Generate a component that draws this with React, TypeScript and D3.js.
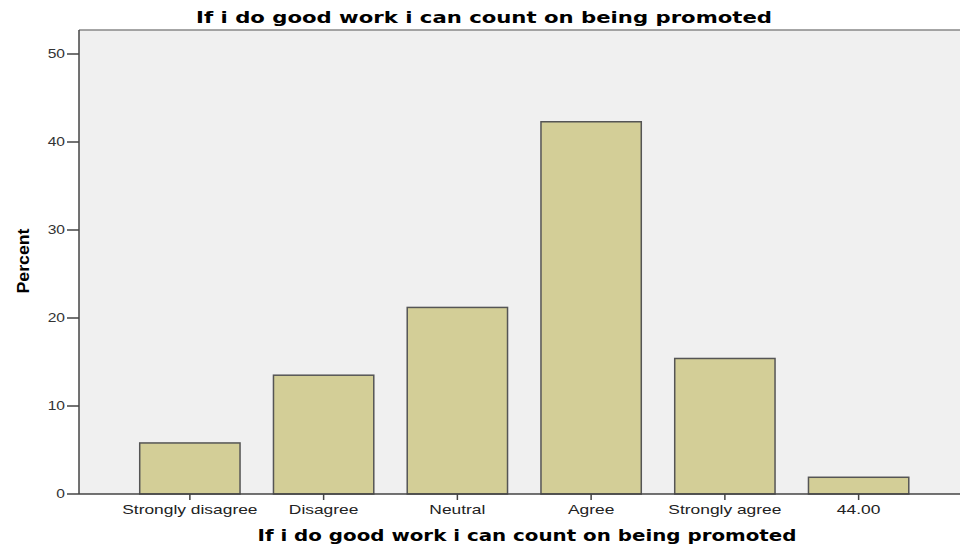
import React from "react";
import * as d3 from "d3";

const categories = ["Strongly disagree", "Disagree", "Neutral", "Agree", "Strongly agree", "44.00"];
const percents = [5.8, 13.5, 21.2, 42.3, 15.4, 1.9];
const yTicks = [0, 10, 20, 30, 40, 50];
const titleText = "If i do good work i can count on being promoted";
const xTitle = "If i do good work i can count on being promoted";
const yTitle = "Percent";

export default function App() {
  const W = 960, H = 550;
  const plotLeft = 79, plotTop = 30, plotRight = 960, plotBottom = 494;
  const y = d3.scaleLinear().domain([0, 50]).range([494, 54]);
  const x = d3.scaleBand<string>().domain(categories).range([123, 925.5]).paddingInner(0.25).paddingOuter(0.125);
  const font = "Liberation Sans, Arial, sans-serif";
  return (
    <svg width={W} height={H} style={{ position: "absolute", left: 0, top: 0 }}>
      <rect x={0} y={0} width={W} height={H} fill="#ffffff" />
      <rect x={plotLeft} y={plotTop} width={plotRight - plotLeft} height={plotBottom - plotTop} fill="#f0f0f0" />
      <line x1={plotLeft} x2={plotRight} y1={plotTop} y2={plotTop} stroke="#888" strokeWidth={1.5} />
      {categories.map((c, i) => (
        <rect key={c} x={x(c)} y={y(percents[i])} width={x.bandwidth()} height={y(0) - y(percents[i])}
          fill="#d3ce97" stroke="#555" strokeWidth={1.5} />
      ))}
      <line x1={plotLeft} x2={plotLeft} y1={plotTop} y2={plotBottom} stroke="#444" strokeWidth={1.5} />
      <line x1={plotLeft} x2={plotRight} y1={plotBottom} y2={plotBottom} stroke="#444" strokeWidth={1.5} />
      {yTicks.map(t => (
        <g key={t}>
          <line x1={67} x2={plotLeft} y1={y(t)} y2={y(t)} stroke="#444" strokeWidth={1.5} />
          <text transform={`translate(65,${y(t)}) scale(1.3,1)`} dy="0.35em" textAnchor="end" fontFamily={font} fontSize={12} fill="#333">{t}</text>
        </g>
      ))}
      {categories.map(c => {
        const cx = (x(c) as number) + x.bandwidth() / 2;
        return (
          <g key={c}>
            <line x1={cx} x2={cx} y1={plotBottom} y2={plotBottom + 6} stroke="#444" strokeWidth={1.5} />
            <text transform={`translate(${cx},514) scale(1.45,1)`} textAnchor="middle" fontFamily={font} fontSize={12} fill="#222">{c}</text>
          </g>
        );
      })}
      <text x={484} y={23} textAnchor="middle" fontFamily="DejaVu Sans, sans-serif" fontWeight="bold" fontSize={15} textLength={576} lengthAdjust="spacingAndGlyphs" fill="#000">{titleText}</text>
      <text x={527} y={541} textAnchor="middle" fontFamily="DejaVu Sans, sans-serif" fontWeight="bold" fontSize={15} textLength={539} lengthAdjust="spacingAndGlyphs" fill="#000">{xTitle}</text>
      <text transform="translate(29,261) rotate(-90)" textAnchor="middle" fontFamily="Liberation Sans, Arial, sans-serif" fontWeight="bold" fontSize={17} textLength={65} lengthAdjust="spacingAndGlyphs" fill="#000">{yTitle}</text>
    </svg>
  );
}
